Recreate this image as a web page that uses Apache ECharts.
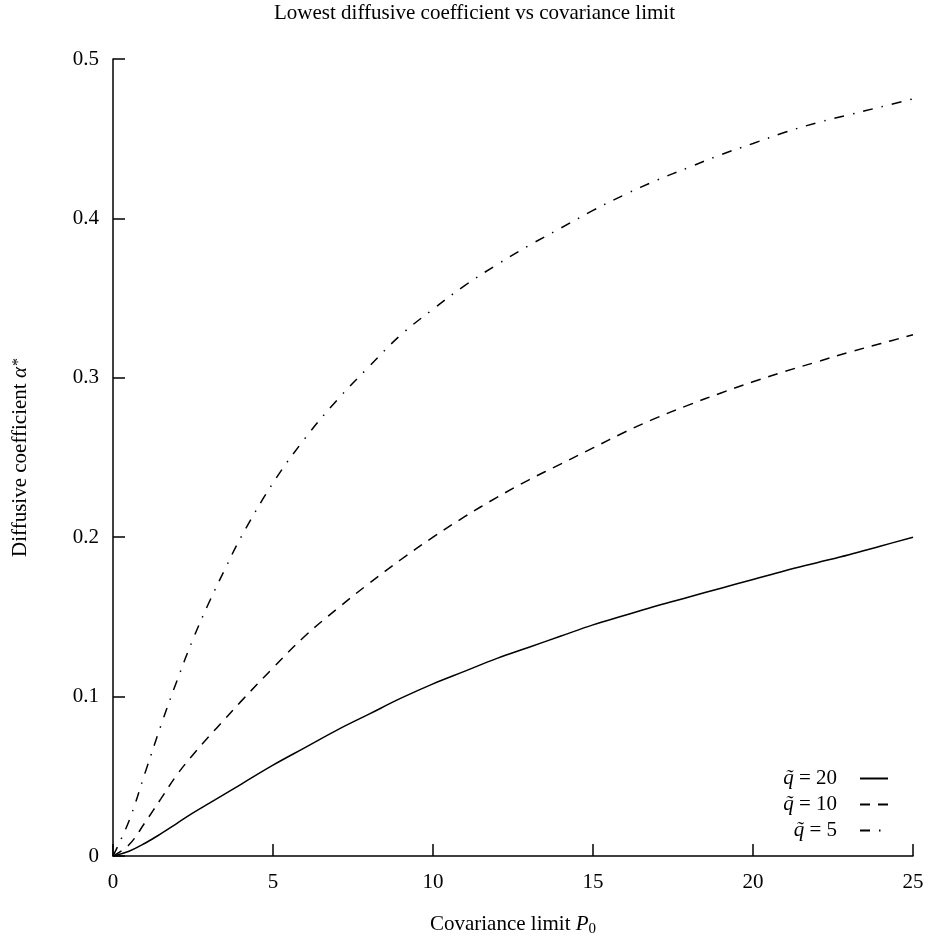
<!DOCTYPE html>
<html>
<head>
<meta charset="utf-8">
<script src="https://cdn.jsdelivr.net/npm/echarts@6/dist/echarts.min.js"></script>
<style>html,body{margin:0;padding:0;background:#fff;}#c{width:930px;height:942px;}</style>
</head>
<body>
<div id="c"></div>
<script>
// Data
var P0 = [0, 0.5, 1, 1.5, 2, 2.5, 3, 3.5, 4, 5, 6, 7, 8, 9, 10, 11, 12, 13, 14, 15, 16, 17, 18, 19, 20, 21, 22, 23, 24, 25];
var q20 = [0, 0.003, 0.008, 0.014, 0.0205, 0.027, 0.033, 0.039, 0.045, 0.057, 0.068, 0.079, 0.089, 0.099, 0.108, 0.116, 0.124, 0.131, 0.138, 0.145, 0.151, 0.157, 0.1625, 0.168, 0.1735, 0.179, 0.184, 0.189, 0.1945, 0.2];
var q10 = [0, 0.007, 0.021, 0.036, 0.051, 0.0635, 0.075, 0.086, 0.097, 0.118, 0.138, 0.155, 0.171, 0.186, 0.2, 0.213, 0.225, 0.236, 0.246, 0.256, 0.266, 0.275, 0.283, 0.2905, 0.2975, 0.304, 0.31, 0.316, 0.3215, 0.327];
var q5 = [0, 0.022, 0.052, 0.082, 0.11, 0.136, 0.159, 0.18, 0.2, 0.234, 0.262, 0.286, 0.307, 0.327, 0.343, 0.358, 0.371, 0.383, 0.394, 0.405, 0.415, 0.424, 0.432, 0.44, 0.447, 0.454, 0.46, 0.465, 0.47, 0.475];
var seriesNames = ['20', '10', '5'];
var xTicks = [0, 5, 10, 15, 20, 25];
var yTicks = [0, 0.1, 0.2, 0.3, 0.4, 0.5];

function pairs(ys) { return P0.map(function (x, i) { return [x, ys[i]]; }); }

var FONT = 'Liberation Serif';
var FS = 21;
var chart = echarts.init(document.getElementById('c'), null, {renderer: 'canvas'});
var lineBase = {type: 'line', showSymbol: false, symbol: 'none', smooth: 0.4, silent: true};
chart.setOption({
  animation: false,
  backgroundColor: '#fff',
  title: {
    text: 'Lowest diffusive coefficient vs covariance limit',
    left: 274, top: 1, padding: [2, 0, 2, 0],
    textStyle: {fontFamily: FONT, fontWeight: 'normal', fontSize: FS, color: '#000'}
  },
  grid: {left: 113, right: 17, top: 59, bottom: 84, containLabel: false},
  legend: {
    orient: 'vertical', right: 36, top: 763, align: 'right',
    itemWidth: 28, itemHeight: 14, itemGap: 5,
    itemStyle: {opacity: 0},
    data: seriesNames.map(function (n) { return 'q' + n; }),
    formatter: function (name) { return '{q|q\u0303} = ' + name.slice(1); },
    textStyle: {
      fontFamily: FONT, fontSize: FS, color: '#000', padding: [0, 18, 0, 0], lineHeight: 20.5,
      rich: {q: {fontFamily: FONT, fontSize: FS, fontStyle: 'italic', color: '#000'}}
    }
  },
  xAxis: {
    type: 'value', min: 0, max: 25, interval: 5,
    name: 'Covariance limit {i|P}{s|0}', nameLocation: 'middle', nameGap: 56,
    nameTextStyle: {fontFamily: FONT, fontSize: FS, color: '#000',
      rich: {i: {fontFamily: FONT, fontSize: FS, fontStyle: 'italic', color: '#000'},
             s: {fontFamily: FONT, fontSize: 15, color: '#000', padding: [10, 0, 0, 0]}}},
    axisLine: {show: true, onZero: false, lineStyle: {color: '#000', width: 1.5}},
    axisTick: {show: true, inside: true, length: 12, lineStyle: {color: '#000', width: 1.5}},
    axisLabel: {fontFamily: FONT, fontSize: FS, color: '#000', margin: 16,
      formatter: function (v) { return xTicks.indexOf(v) >= 0 ? String(v) : ''; }},
    splitLine: {show: false}
  },
  yAxis: {
    type: 'value', min: 0, max: 0.5, interval: 0.1,
    name: 'Diffusive coefficient {i|\u03b1}{s|*}', nameLocation: 'middle', nameGap: 82, nameRotate: 90,
    nameTextStyle: {fontFamily: FONT, fontSize: FS, color: '#000',
      rich: {i: {fontFamily: FONT, fontSize: FS, fontStyle: 'italic', color: '#000'},
             s: {fontFamily: FONT, fontSize: 16, color: '#000', padding: [0, 0, 4, 1]}}},
    axisLine: {show: true, onZero: false, lineStyle: {color: '#000', width: 1.5}},
    axisTick: {show: true, inside: true, length: 12, lineStyle: {color: '#000', width: 1.5}},
    axisLabel: {fontFamily: FONT, fontSize: FS, color: '#000', margin: 14,
      formatter: function (v) {
        var t = yTicks.filter(function (y) { return Math.abs(y - v) < 1e-9; });
        return t.length ? (v === 0 ? '0' : v.toFixed(1)) : '';
      }},
    splitLine: {show: false}
  },
  series: [
    Object.assign({}, lineBase, {name: 'q20', data: pairs(q20), lineStyle: {color: '#000', width: 1.5, type: 'solid'}, itemStyle: {color: '#000'}}),
    Object.assign({}, lineBase, {name: 'q10', data: pairs(q10), lineStyle: {color: '#000', width: 1.5, type: [10, 8]}, itemStyle: {color: '#000'}}),
    Object.assign({}, lineBase, {name: 'q5', data: pairs(q5), lineStyle: {color: '#000', width: 1.5, type: [10, 9, 1.5, 9]}, itemStyle: {color: '#000'}})
  ]
});
</script>
</body>
</html>
